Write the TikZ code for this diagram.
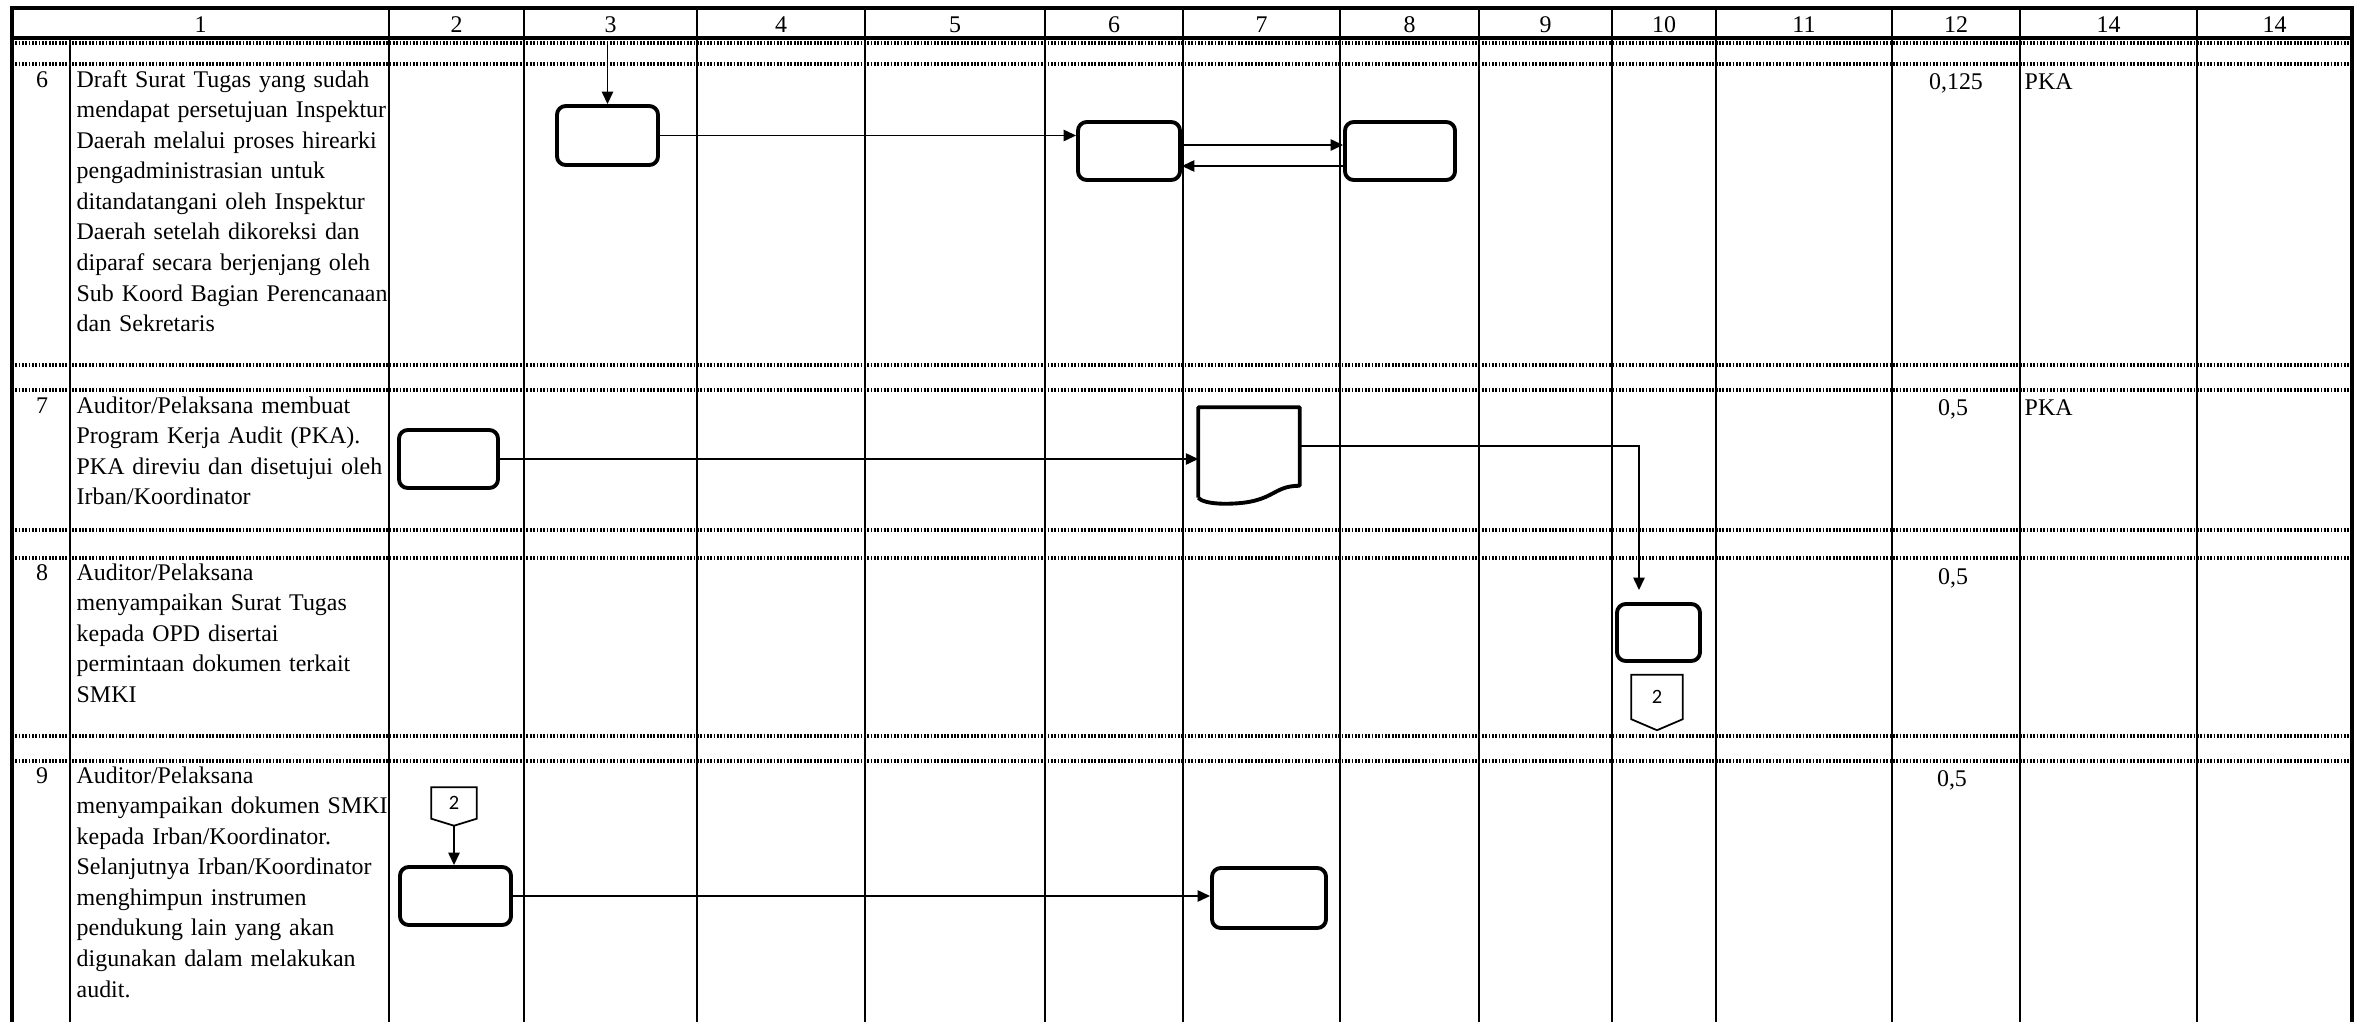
\documentclass[tikz,border=0pt]{standalone}
\usepackage{fontspec}
\setmainfont{Liberation Serif}
\newfontfamily\conff{Carlito}
\usetikzlibrary{arrows.meta,calc}
\begin{document}
\begin{tikzpicture}[x=0.01cm,y=-0.01cm,
  tline/.style={line width=0.55pt},
  bline/.style={line width=1.1pt},
  dline/.style={line width=0.9pt,dash pattern=on 0.5pt off 0.45pt},
  proc/.style={draw,line width=1.1pt,rounded corners=2.5pt,inner sep=0pt},
  docbox/.style={draw=none,inner sep=0pt},
  docline/.style={line width=1.1pt,line join=round},
  conbox/.style={draw=none,inner sep=0pt,font=\conff\fontsize{5.8pt}{6pt}\selectfont},
  conline/.style={line width=0.5pt},
  arr/.style={line width=0.45pt,-{Triangle[length=3.5pt,width=3.2pt]}},
  txt/.style={font=\fontsize{6.8pt}{8.7pt}\selectfont,inner sep=0pt},
  desc/.style={txt,anchor=base west,text width=3.4cm,align=left},
  num/.style={txt,anchor=base},
  val/.style={txt,anchor=base},
  vall/.style={txt,anchor=base west}
]
\useasboundingbox (0,0) rectangle (2362,1030);

% ---------- table grid ----------
\foreach \y in {43,64,365,390,530,558,736,761}
  \draw[dline] (12,\y) -- (2352,\y);
\foreach \x in {389,524,697,865,1045,1183,1340,1479,1612,1716,1892,2020,2197}
  \draw[tline] (\x,8) -- (\x,1022);
\draw[tline] (70,38) -- (70,1022);
\draw[bline] (12,1022) -- (12,8) -- (2352,8) -- (2352,1022);
\draw[bline] (12,38) -- (2352,38);

% ---------- header ----------
\node[num] (h1) at (200.5,32) {1};
\node[num] (h2) at (456.5,32) {2};
\node[num] (h3) at (610.5,32) {3};
\node[num] (h4) at (781,32) {4};
\node[num] (h5) at (955,32) {5};
\node[num] (h6) at (1114,32) {6};
\node[num] (h7) at (1261.5,32) {7};
\node[num] (h8) at (1409.5,32) {8};
\node[num] (h9) at (1545.5,32) {9};
\node[num] (h10) at (1664,32) {10};
\node[num] (h11) at (1804,32) {11};
\node[num] (h12) at (1956,32) {12};
\node[num] (h13) at (2108.5,32) {14};
\node[num] (h14) at (2274.5,32) {14};

% ---------- row numbers and descriptions ----------
\node[num] (n6) at (42,87) {6};
\node[desc] (d6) at (76,87) {Draft Surat Tugas yang sudah\\
mendapat persetujuan Inspektur\\
Daerah melalui proses hirearki\\
pengadministrasian untuk\\
ditandatangani oleh Inspektur\\
Daerah setelah dikoreksi dan\\
diparaf secara berjenjang oleh\\
Sub Koord Bagian Perencanaan\\
dan Sekretaris};

\node[num] (n7) at (42,413) {7};
\node[desc] (d7) at (76,413) {Auditor/Pelaksana membuat\\
Program Kerja Audit (PKA).\\
PKA direviu dan disetujui oleh\\
Irban/Koordinator};

\node[num] (n8) at (42,580) {8};
\node[desc] (d8) at (76,580) {Auditor/Pelaksana\\
menyampaikan Surat Tugas\\
kepada OPD disertai\\
permintaan dokumen terkait\\
SMKI};

\node[num] (n9) at (42,783) {9};
\node[desc] (d9) at (76,783) {Auditor/Pelaksana\\
menyampaikan dokumen SMKI\\
kepada Irban/Koordinator.\\
Selanjutnya Irban/Koordinator\\
menghimpun instrumen\\
pendukung lain yang akan\\
digunakan dalam melakukan\\
audit.};

% ---------- right columns ----------
\node[val] (w6) at (1956,89) {0,125};
\node[vall] (o6) at (2024,89) {PKA};
\node[val] (w7) at (1953,415) {0,5};
\node[vall] (o7) at (2024,415) {PKA};
\node[val] (w8) at (1953,584) {0,5};
\node[val] (w9) at (1952,786) {0,5};

% ---------- row 6 ----------
\coordinate (s6) at (607.5,42);
\node[proc,minimum width=1.01cm,minimum height=0.59cm] (b3) at (607.5,135.5) {};
\node[proc,minimum width=1.02cm,minimum height=0.58cm] (b6) at (1129,151) {};
\node[proc,minimum width=1.10cm,minimum height=0.58cm] (b8) at (1400,151) {};
\draw[arr] (s6) -- (b3.north);
\draw[arr] (b3.east) -- (b3.east -| b6.west);
\draw[arr] ($(b6.east)+(0,-6)$) -- ($(b8.west)+(0,-6)$);
\draw[arr] ($(b8.west)+(0,15)$) -- ($(b6.east)+(0,15)$);

% ---------- row 7 ----------
\node[proc,minimum width=0.99cm,minimum height=0.58cm] (b7) at (448.5,459) {};
\node[docbox,minimum width=1.00cm,minimum height=0.95cm] (doc) at (1249,455.5) {};
\draw[docline] ($(doc.south west)+(0,-6)$) -- (doc.north west) -- (doc.north east)
  -- ($(doc.south east)+(0,-18)$)
  .. controls ($(doc.south east)+(-29,-18)$) and ($(doc.south)+(26,0)$) .. ($(doc.south)+(-24,0)$)
  .. controls ($(doc.south west)+(11,0)$) and ($(doc.south west)+(2,-3)$) .. ($(doc.south west)+(0,-6)$);
\draw[arr] (b7.east) -- (b7.east -| doc.west);

% ---------- row 8 ----------
\node[proc,minimum width=0.83cm,minimum height=0.57cm] (b10) at (1658.5,632.5) {};
\draw[arr,shorten >=0.12cm] ($(doc.east)+(0,-9.5)$) -| ($(b10.north)+(-19.5,0)$);
\node[conbox,minimum width=0.50cm,minimum height=0.43cm] (c8) at (1657,697) {2};
\draw[conline] (c8.north west) -- (c8.north east) -- (c8.south east)
  -- ($(c8.south)+(0,11)$) -- (c8.south west) -- cycle;

% ---------- row 9 ----------
\node[conbox,minimum width=0.44cm,minimum height=0.30cm] (c9) at (454,803) {2};
\draw[conline] (c9.north west) -- (c9.north east) -- (c9.south east)
  -- ($(c9.south)+(0,7)$) -- (c9.south west) -- cycle;
\node[proc,minimum width=1.11cm,minimum height=0.58cm] (b9a) at (455.5,896) {};
\node[proc,minimum width=1.14cm,minimum height=0.60cm] (b9b) at (1269,898) {};
\draw[arr] ($(c9.south)+(0,7)$) -- (c9.south |- b9a.north);
\draw[arr] (b9a.east) -- (b9a.east -| b9b.west);
\end{tikzpicture}
\end{document}
